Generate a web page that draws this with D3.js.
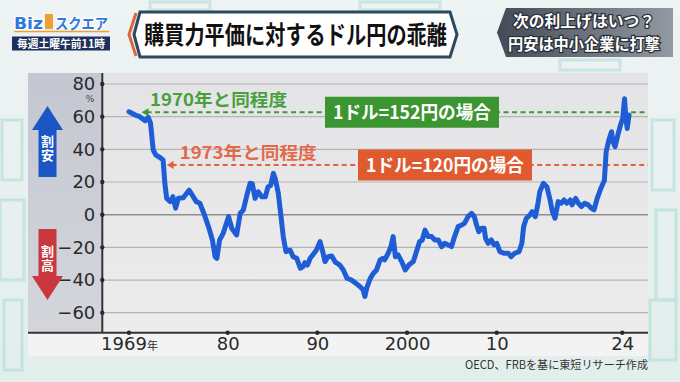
<!DOCTYPE html>
<html><head><meta charset="utf-8">
<script src="https://cdn.jsdelivr.net/npm/d3@7"></script>
<style>html,body{margin:0;padding:0;background:#e6efee;} svg{display:block}</style>
</head><body>
<svg id="c" width="680" height="382"></svg>
<script>
// ---- data ----
const years = [1969.0,1969.7,1970.2,1970.8,1971.15,1971.4,1971.7,1972.0,1972.45,1972.8,1973.0,1973.2,1973.6,1973.9,1974.2,1974.5,1975.05,1975.7,1976.05,1976.5,1976.9,1977.4,1977.9,1978.3,1978.6,1978.8,1979.1,1979.5,1980.1,1980.45,1981.0,1981.4,1981.75,1982.1,1982.5,1982.75,1983.05,1983.4,1983.8,1984.2,1984.5,1984.8,1985.1,1985.35,1985.65,1985.95,1986.2,1986.5,1986.95,1987.3,1987.7,1988.1,1988.4,1988.6,1988.9,1989.2,1989.5,1989.9,1990.3,1990.6,1990.85,1991.2,1991.6,1992.0,1992.5,1992.9,1993.3,1993.8,1994.2,1994.75,1995.1,1995.3,1995.5,1995.9,1996.25,1996.6,1997.0,1997.3,1997.5,1997.9,1998.2,1998.45,1998.7,1999.0,1999.4,1999.8,2000.2,2000.7,2001.05,2001.4,2001.7,2002.0,2002.35,2002.75,2003.1,2003.5,2003.85,2004.2,2004.6,2004.95,2005.3,2005.7,2006.1,2006.4,2006.8,2007.2,2007.5,2007.75,2008.0,2008.3,2008.6,2008.75,2009.05,2009.4,2009.7,2010.0,2010.35,2010.8,2011.3,2011.6,2012.0,2012.5,2012.8,2013.0,2013.3,2013.7,2013.95,2014.3,2014.6,2014.8,2015.2,2015.6,2015.95,2016.2,2016.5,2016.85,2017.2,2017.5,2017.8,2018.2,2018.4,2018.8,2019.1,2019.45,2019.8,2020.2,2020.55,2020.85,2021.2,2021.6,2022.0,2022.2,2022.5,2022.8,2022.95,2023.2,2023.5,2023.8,2024.05,2024.25,2024.4,2024.55,2024.75];
const deviation = [63,61,60,57.5,59.6,56,39.6,36.5,35,33.5,19,10,8,11,4,10,10.4,15,12,8,7,0,-8,-15.5,-25.7,-26.7,-15.5,-11.4,-1.2,-8.3,-12.4,0.9,2.9,11,19.2,19,10,14,11,11,17,18,25.3,21,13,-1.2,-13.4,-22.6,-21.6,-25.7,-26.7,-32.8,-31.8,-29.4,-30.8,-26.7,-24.6,-21.6,-16.5,-22.6,-28.7,-25.7,-25.3,-29,-30.8,-33.8,-38.9,-40,-41.6,-44,-46,-50,-45,-39,-35.8,-33.8,-27.7,-26.7,-27.7,-23.6,-19.6,-13.4,-25.7,-24.6,-28.7,-33.8,-30.8,-28.7,-22.6,-16.5,-15.5,-9.4,-13.4,-13.4,-15.5,-15.5,-19.6,-17.5,-18.5,-19.6,-13.4,-7.3,-6.3,-5.3,-1.2,0.8,-1.2,-6.3,-10.4,-8.3,-8.3,-14.4,-17.5,-15.5,-18.5,-17.5,-22.6,-23.6,-23.6,-25.7,-23.6,-22.6,-17.5,-7.3,-2.2,-0.2,1.8,-1.2,7,14,19.2,17,9,2,-2.2,8,7,9,7,9,6,10,7,5,7,6,4,3,10,16,21,38.5,45.7,50.8,44.6,41.6,48.7,54.9,59,71,59,52.8,61];
const yTicks = [80,60,40,20,0,-20,-40,-60];
const xTickYears = [1969,1980,1990,2000,2010,2024];
const xTickLabels = ["1969","80","90","2000","10","24"];
const refValues = [62.7, 30.4];
const refStartYears = [1970.4, 1973.2];
const refNotes = ["1970年と同程度","1973年と同程度"];
const refBoxes = ["1ドル=152円の場合","1ドル=120円の場合"];
const arrowLabels = ["割安","割高"];
const titleText = "購買力平価に対するドル円の乖離";
const subtitleLines = ["次の利上げはいつ？","円安は中小企業に打撃"];
const sourceText = "OECD、FRBを基に東短リサーチ作成";

// ---- layout ----
const svg = d3.select("#c");
const JP = "'Noto Sans CJK JP','Noto Sans',sans-serif";
const NUM = "'DejaVu Sans','Noto Sans',sans-serif";
const panelL = 28, axisX = 102.3, panelR = 648, panelT = 73, axisY = 332.7, stripB = 356;
const x = d3.scaleLinear().domain([1969, 2024]).range([129, 622.3]);
const y = d3.scaleLinear().domain([80, -60]).range([84, 312.7]);

const defs = svg.append("defs");
const bgG = defs.append("linearGradient").attr("id","bg").attr("x1",0).attr("y1",0).attr("x2",0).attr("y2",1);
bgG.append("stop").attr("offset",0).attr("stop-color","#eef3f3");
bgG.append("stop").attr("offset",1).attr("stop-color","#e2eeec");
const lpG = defs.append("linearGradient").attr("id","lp").attr("x1",0).attr("y1",0).attr("x2",0).attr("y2",1);
lpG.append("stop").attr("offset",0).attr("stop-color","#c4c7d1");
lpG.append("stop").attr("offset",1).attr("stop-color","#d4d6dc");
const plG = defs.append("linearGradient").attr("id","pl").attr("x1",0).attr("y1",0).attr("x2",0).attr("y2",1);
plG.append("stop").attr("offset",0).attr("stop-color","#e4e4e6");
plG.append("stop").attr("offset",1).attr("stop-color","#ececed");
const sbG = defs.append("linearGradient").attr("id","sb").attr("x1",0).attr("y1",0).attr("x2",1).attr("y2",0);
sbG.append("stop").attr("offset",0).attr("stop-color","#434b56");
sbG.append("stop").attr("offset",1).attr("stop-color","#9299a1");

svg.append("rect").attr("width",680).attr("height",382).attr("fill","url(#bg)");
// faint skyline outlines
const deco = svg.append("g").attr("fill","none").attr("stroke","#a9dcd4").attr("stroke-width",3).attr("opacity",0.55);
[[2,120,20,60],[0,200,24,80],[4,300,18,70],[652,120,22,70],[656,210,20,90],[650,300,26,60],[150,2,60,8],[360,2,80,8],[560,60,60,10]]
  .forEach(r=>deco.append("rect").attr("x",r[0]).attr("y",r[1]).attr("width",r[2]).attr("height",r[3]));

// panels
svg.append("rect").attr("x",panelL).attr("y",panelT).attr("width",axisX-panelL).attr("height",axisY-panelT).attr("fill","url(#lp)");
svg.append("rect").attr("x",axisX).attr("y",panelT).attr("width",panelR-axisX).attr("height",axisY-panelT).attr("fill","url(#pl)");
svg.append("rect").attr("x",panelL).attr("y",axisY).attr("width",panelR-panelL).attr("height",stripB-axisY).attr("fill","#f3f3f3");

// gridlines
svg.append("g").selectAll("line").data(yTicks).join("line")
  .attr("x1",axisX).attr("x2",panelR).attr("y1",d=>y(d)).attr("y2",d=>y(d))
  .attr("stroke",d=>d===0?"#8e8e8e":"#b4b4b6").attr("stroke-width",d=>d===0?1.6:1.2);

// y axis
const ya = svg.append("g").attr("transform",`translate(${axisX},0)`)
  .call(d3.axisLeft(y).tickValues(yTicks).tickSize(0).tickPadding(7));
ya.select(".domain").remove();
ya.selectAll("text").attr("font-family",NUM).attr("font-size",18).attr("fill","#2a2a2a");
svg.append("line").attr("x1",axisX).attr("x2",axisX).attr("y1",panelT).attr("y2",axisY).attr("stroke","#333").attr("stroke-width",2);
svg.append("g").selectAll("circle").data(yTicks).join("circle").attr("cx",axisX).attr("cy",d=>y(d)).attr("r",2.2).attr("fill","#2a2a2a");
svg.append("text").attr("x",90).attr("y",102).attr("text-anchor","middle").attr("font-family",NUM).attr("font-size",9).attr("fill","#444").text("%");

// x axis
const xa = svg.append("g").attr("transform",`translate(0,${axisY})`)
  .call(d3.axisBottom(x).tickValues(xTickYears).tickSize(0).tickPadding(4.5).tickFormat((d,i)=>xTickLabels[i]));
xa.select(".domain").remove();
xa.selectAll("text").attr("font-family",NUM).attr("font-size",18).attr("fill","#2a2a2a");
xa.selectAll("text").filter((d,i)=>i===0).append("tspan").attr("font-size",11).attr("font-family",JP).text("年");
svg.append("line").attr("x1",panelL).attr("x2",panelR).attr("y1",axisY).attr("y2",axisY).attr("stroke","#333").attr("stroke-width",2);
svg.append("g").selectAll("circle").data(xTickYears).join("circle").attr("cx",d=>x(d)).attr("cy",axisY).attr("r",2.2).attr("fill","#2a2a2a");

// reference lines + notes
const refColors = ["#3d9a35","#e2623e"];
const boxColors = ["#3b9530","#e05a30"];
const noteColors = ["#47a03c","#e4694a"];
const boxX = [325, 358];
const noteOff = [8.5, 13];
refValues.forEach((v,i)=>{
  const yy = y(v), x0 = x(refStartYears[i]);
  svg.append("line").attr("x1",x0+5).attr("x2",panelR).attr("y1",yy).attr("y2",yy)
    .attr("stroke",refColors[i]).attr("stroke-width",2).attr("stroke-dasharray","5,3.5");
  svg.append("path").attr("d",`M${x0},${yy}L${x0+7},${yy-4}L${x0+7},${yy+4}Z`).attr("fill",refColors[i]);
  svg.append("text").attr("x",x0+noteOff[i]).attr("y",yy-6.5).attr("font-family",JP).attr("font-weight",700)
    .attr("font-size",17).attr("fill",noteColors[i]).attr("textLength",137).attr("lengthAdjust","spacingAndGlyphs").text(refNotes[i]);
  svg.append("rect").attr("x",boxX[i]).attr("y",yy-15.5).attr("width",174).attr("height",31).attr("fill",boxColors[i]);
  svg.append("text").attr("x",boxX[i]+8).attr("y",yy+6.5).attr("font-family",JP).attr("font-weight",700)
    .attr("font-size",18).attr("fill","#fff").attr("textLength",158).attr("lengthAdjust","spacingAndGlyphs").text(refBoxes[i]);
});

// main line
const pts = years.map((yr,i)=>[yr,deviation[i]]);
svg.append("path").datum(pts)
  .attr("d",d3.line().x(d=>x(d[0])).y(d=>y(d[1])))
  .attr("fill","none").attr("stroke","#1e5dd6").attr("stroke-width",5)
  .attr("stroke-linejoin","round").attr("stroke-linecap","round");

// left arrows
svg.append("path").attr("d","M47.5,106L63,130L56.5,130L56.5,177L38.5,177L38.5,130L32,130Z").attr("fill","#1c55c4");
svg.append("path").attr("d","M38.5,229L56.5,229L56.5,276L63,276L47.5,300L32,276L38.5,276Z").attr("fill","#c8383e");
[[arrowLabels[0],135],[arrowLabels[1],245]].forEach(t=>svg.append("text").attr("x",47.5).attr("y",t[1])
  .attr("writing-mode","vertical-rl").attr("glyph-orientation-vertical",0).attr("letter-spacing",1)
  .attr("font-family",JP).attr("font-weight",700).attr("font-size",13).attr("fill","#fff").text(t[0]));

// title box
svg.append("polygon").attr("points","140,12 450,12 457,34.5 450,57 140,57 134,34.5").attr("fill","#fff").attr("stroke","#2a4a60").attr("stroke-width",3);
svg.append("polyline").attr("points","136,13 129,34.5 136,56").attr("fill","none").attr("stroke","#e2643c").attr("stroke-width",3);
svg.append("text").attr("x",144).attr("y",43.5).attr("font-family",JP).attr("font-weight",700).attr("font-size",25)
  .attr("fill","#111").attr("textLength",303).attr("lengthAdjust","spacingAndGlyphs").text(titleText);

// subtitle box
svg.append("polygon").attr("points","506,8 673,8 673,57 506,57 497,32.5").attr("fill","url(#sb)");
subtitleLines.forEach((s,i)=>svg.append("text").attr("text-anchor","middle").attr("x",584).attr("y",i===0?27:49.5)
  .attr("font-family",JP).attr("font-weight",700).attr("font-size",15.5).attr("fill","#fff")
  .attr("stroke","#2b3038").attr("stroke-width",2.5).attr("paint-order","stroke")
  .attr("textLength",i===0?142:152).attr("lengthAdjust","spacingAndGlyphs").text(s));

// logo
svg.append("text").attr("x",14).attr("y",29).attr("font-family","'DejaVu Sans',sans-serif").attr("font-weight",700).attr("font-size",16)
  .attr("fill","#2f78dc").attr("stroke","#fff").attr("stroke-width",2.5).attr("paint-order","stroke").attr("textLength",29).attr("lengthAdjust","spacingAndGlyphs").text("Biz");
svg.append("rect").attr("x",45).attr("y",14).attr("width",8).attr("height",15).attr("fill","#f0a030");
svg.append("text").attr("x",55).attr("y",29).attr("font-family",JP).attr("font-weight",700).attr("font-size",15)
  .attr("fill","#2f78dc").attr("stroke","#fff").attr("stroke-width",2.5).attr("paint-order","stroke").attr("textLength",53).attr("lengthAdjust","spacingAndGlyphs").text("スクエア");
svg.append("line").attr("x1",14).attr("x2",109).attr("y1",31.5).attr("y2",31.5).attr("stroke","#f0a030").attr("stroke-width",1.5);
svg.append("rect").attr("x",12).attr("y",36.5).attr("width",98).attr("height",14).attr("fill","#1d2f5c");
svg.append("text").attr("x",61).attr("y",47.6).attr("text-anchor","middle").attr("font-family",JP).attr("font-weight",700).attr("font-size",11)
  .attr("fill","#fff").attr("textLength",88).attr("lengthAdjust","spacingAndGlyphs").text("毎週土曜午前11時");

// source
svg.append("text").attr("x",648).attr("y",369).attr("text-anchor","end").attr("font-family",JP).attr("font-size",11.5)
  .attr("fill","#333").attr("textLength",183).attr("lengthAdjust","spacingAndGlyphs").text(sourceText);
</script>
</body></html>
